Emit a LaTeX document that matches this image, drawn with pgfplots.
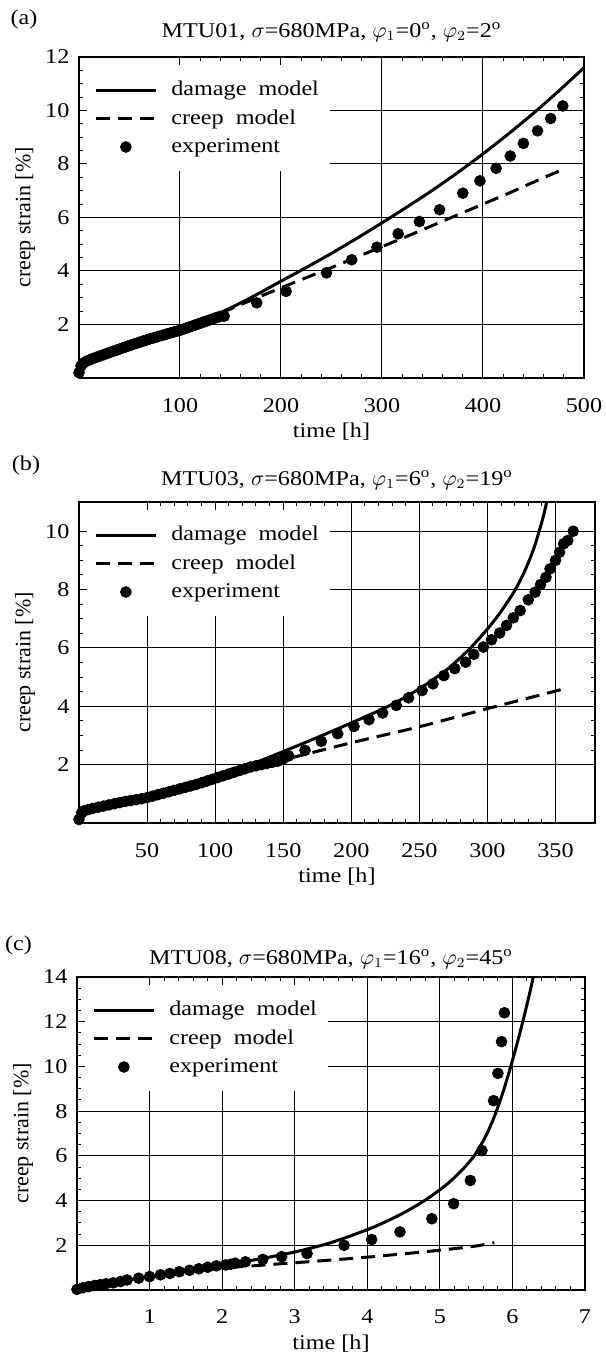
\documentclass[border=0pt]{standalone}
\usepackage{fontspec}
\setmainfont{Liberation Serif}[FakeStretch=1.15]
\newfontfamily\plainserif{Liberation Serif}
\usepackage{pgfplots}
\pgfplotsset{compat=1.18}

\pgfplotsset{
  creepaxis/.style={
    scale only axis,
    anchor=south west,
    axis line style={line width=0.7pt},
    grid=major,
    major grid style={line width=0.5pt,black},
    tick align=inside,
    tick style={black,line width=0.5pt},
    major tick length=4pt,
    minor tick length=2pt,
    minor x tick num=4,
    minor y tick num=3,
    /pgf/number format/assume math mode=true,
    xticklabel style={yshift=-6.5pt},
    yticklabel style={xshift=-1.3pt},
    every axis title/.style={at={(axis description cs:0.5,1)},anchor=center},
    every axis x label/.style={at={(axis description cs:0.5,0)},yshift=-27pt,anchor=center},
    every axis y label/.style={at={(axis description cs:0,0.5)},xshift=-27pt,rotate=90,anchor=center,font=\plainserif\fontsize{11}{12}\selectfont},
    xlabel={time [h]},
    ylabel={creep strain [\%]},
    legend style={at={(axis description cs:0,1)},anchor=north west,xshift=4pt,yshift=-4pt,
      draw=none,fill=white,inner xsep=3.5pt,inner ysep=6pt,row sep=1.5pt,
      /tikz/every odd column/.append style={column sep=5pt}},
    legend cell align=left,
    legend image code/.code={\draw[mark repeat=2,mark phase=2,#1] plot coordinates {(0pt,0pt) (15pt,0pt) (30pt,0pt)};},
  },
  damage/.style={black,line width=1.5pt,smooth,no marks},
  creepm/.style={black,line width=1.5pt,dash pattern=on 7pt off 4pt,smooth,no marks},
  expt/.style={only marks,mark=*,mark size=2.7pt,black},
}

\begin{document}
\begin{tikzpicture}[font=\fontsize{10.5}{12}\selectfont]
\useasboundingbox (0,0) rectangle (302.5pt,-679pt);

% (a)
\begin{axis}[creepaxis,at={(39.5pt,-189pt)},width=252.5pt,height=160.5pt,
  xmin=0,xmax=500,ymin=0,ymax=12,
  xtick={100,200,300,400,500},ytick={2,4,6,8,10,12},
  title style={yshift=12.5pt},
  title={MTU01, $\sigma$=680MPa, $\varphi_1$=0\textsuperscript{o}, $\varphi_2$=2\textsuperscript{o}}]
\addplot[damage] coordinates {(0,0.35) (2,0.48) (5,0.58) (10,0.67) (20,0.82) (30,0.95) (40,1.08) (50,1.21) (60,1.34) (70,1.46) (80,1.58) (90,1.7) (100,1.82) (125,2.2) (150,2.62) (175,3.1) (200,3.62) (225,4.13) (250,4.66) (275,5.22) (300,5.8) (325,6.4) (350,7.02) (375,7.68) (400,8.38) (425,9.12) (450,9.9) (475,10.73) (500,11.6)};
\addlegendentry{damage\ \ model}
\addplot[creepm] coordinates {(0,0.35) (2,0.48) (5,0.58) (10,0.67) (20,0.82) (30,0.95) (40,1.08) (50,1.21) (60,1.34) (70,1.46) (80,1.58) (90,1.7) (100,1.82) (125,2.18) (150,2.58) (175,2.98) (200,3.37) (225,3.75) (250,4.13) (275,4.52) (300,4.91) (325,5.3) (350,5.7) (375,6.1) (400,6.5) (425,6.9) (450,7.32) (478,7.78)};
\addlegendentry{creep\ \ model}
\addplot[expt] coordinates {(0,0.2) (2,0.45) (4,0.55) (7,0.62) (10,0.67) (13,0.72) (16,0.76) (19,0.8) (22,0.84) (25,0.88) (28,0.92) (31,0.96) (34,1.0) (37,1.04) (40,1.08) (43,1.12) (46,1.16) (49,1.2) (52,1.24) (55,1.28) (58,1.31) (61,1.35) (64,1.39) (67,1.42) (70,1.46) (73,1.49) (76,1.52) (79,1.56) (82,1.59) (85,1.62) (88,1.66) (91,1.69) (94,1.72) (97,1.75) (100,1.78) (103,1.82) (106,1.86) (109,1.9) (112,1.94) (115,1.98) (118,2.02) (121,2.06) (124,2.1) (127,2.14) (130,2.18) (133,2.22) (136,2.26) (139,2.29) (143.7,2.31) (176,2.81) (205,3.24) (245,3.93) (270,4.42) (295,4.89) (316,5.39) (337,5.85) (357,6.29) (380,6.91) (397,7.37) (413,7.84) (427,8.3) (440,8.77) (454,9.24) (467,9.7) (479,10.17)};
\addlegendentry{experiment}
\end{axis}
\node at (12pt,-9.5pt) {(a)};

% (b)
\begin{axis}[creepaxis,at={(39.5pt,-411.5pt)},width=258pt,height=160.5pt,
  xmin=0,xmax=379,ymin=0,ymax=11,
  xtick={50,100,150,200,250,300,350},ytick={2,4,6,8,10},
  title style={yshift=11pt},
  title={MTU03, $\sigma$=680MPa, $\varphi_1$=6\textsuperscript{o}, $\varphi_2$=19\textsuperscript{o}}]
\addplot[damage] coordinates {(0,0.3) (3,0.4) (10,0.48) (25,0.63) (50,0.87) (75,1.18) (100,1.55) (125,1.98) (150,2.45) (175,2.93) (200,3.43) (228,4.02) (250,4.6) (270,5.25) (286.5,5.95) (300,6.65) (310,7.25) (320.5,8.0) (328,8.7) (334,9.4) (338,10.0) (341,10.5) (344,11.1) (345.5,11.5)};
\addlegendentry{damage\ \ model}
\addplot[creepm] coordinates {(0,0.3) (3,0.4) (10,0.48) (25,0.63) (50,0.87) (75,1.18) (100,1.55) (110,1.7) (125,1.9) (153,2.2) (200,2.75) (250,3.3) (300,3.92) (359,4.63)};
\addlegendentry{creep\ \ model}
\addplot[expt] coordinates {(0,0.12) (2,0.35) (4,0.42) (7,0.46) (10,0.5) (14,0.54) (18,0.58) (22,0.62) (26,0.66) (30,0.7) (34,0.74) (38,0.77) (42,0.8) (46,0.83) (50,0.87) (54,0.92) (58,0.97) (62,1.02) (66,1.07) (70,1.12) (74,1.17) (78,1.22) (82,1.27) (86,1.32) (90,1.38) (94,1.44) (98,1.5) (102,1.56) (106,1.62) (110,1.68) (114,1.74) (118,1.8) (122,1.86) (126,1.92) (130,1.96) (134,2.0) (138,2.04) (142,2.08) (146,2.12) (150,2.2) (154,2.3) (166,2.49) (178,2.8) (190,3.06) (202,3.31) (213,3.54) (223,3.77) (233,4.03) (242,4.29) (252,4.54) (260,4.77) (268,5.05) (276,5.29) (284,5.51) (290,5.78) (297,6.03) (303,6.28) (309,6.51) (314,6.77) (319,7.03) (324,7.28) (330,7.65) (335,7.91) (339,8.17) (343,8.42) (346,8.71) (350,9.0) (353,9.28) (356,9.57) (359,9.68) (363,10.0)};
\addlegendentry{experiment}
\end{axis}
\node at (13pt,-232.5pt) {(b)};

% (c)
\begin{axis}[creepaxis,at={(38.5pt,-645pt)},width=254pt,height=156.5pt,
  xmin=0,xmax=7,ymin=0,ymax=14,
  xtick={1,2,3,4,5,6,7},ytick={2,4,6,8,10,12,14},
  title style={yshift=9pt},
  title={MTU08, $\sigma$=680MPa, $\varphi_1$=16\textsuperscript{o}, $\varphi_2$=45\textsuperscript{o}}]
\addplot[damage] coordinates {(0,0.08) (0.25,0.22) (0.5,0.35) (1,0.6) (1.5,0.85) (2,1.11) (2.5,1.38) (3,1.7) (3.5,2.12) (4,2.7) (4.25,3.05) (4.5,3.45) (4.75,3.92) (5,4.48) (5.15,4.88) (5.3,5.35) (5.45,5.9) (5.55,6.4) (5.65,7.0) (5.75,7.75) (5.85,8.65) (5.95,9.7) (6.05,10.85) (6.15,12.1) (6.25,13.45) (6.32,14.5)};
\addlegendentry{damage\ \ model}
\addplot[creepm] coordinates {(0,0.08) (0.25,0.22) (0.5,0.35) (1,0.58) (1.5,0.8) (2,0.98) (2.5,1.1) (3,1.22) (3.5,1.34) (4,1.47) (4.5,1.62) (5,1.78) (5.5,1.97) (5.75,2.12)};
\addlegendentry{creep\ \ model}
\addplot[expt] coordinates {(0,0.03) (0.08,0.1) (0.16,0.15) (0.24,0.2) (0.32,0.24) (0.4,0.28) (0.5,0.32) (0.6,0.38) (0.69,0.45) (0.85,0.53) (1.0,0.6) (1.15,0.68) (1.28,0.74) (1.41,0.82) (1.55,0.88) (1.68,0.95) (1.8,1.02) (1.92,1.08) (2.05,1.12) (2.12,1.15) (2.18,1.2) (2.32,1.26) (2.56,1.37) (2.82,1.49) (3.17,1.63) (3.68,2.0) (4.06,2.26) (4.45,2.6) (4.89,3.19) (5.19,3.86) (5.42,4.9) (5.58,6.24) (5.74,8.47) (5.8,9.69) (5.85,11.11) (5.89,12.4)};
\addlegendentry{experiment}
\end{axis}
\node at (9.25pt,-472.5pt) {(c)};
\end{tikzpicture}
\end{document}
